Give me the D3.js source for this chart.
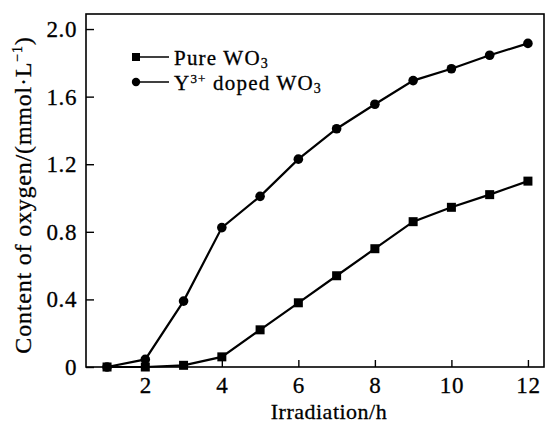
<!DOCTYPE html>
<html>
<head>
<meta charset="utf-8">
<script src="https://cdn.jsdelivr.net/npm/d3@7"></script>
<style>
  body { margin: 0; background: #fff; }
  svg { display: block; }
  text { font-family: "Liberation Serif", "Times New Roman", serif; fill: #000; stroke: #000; stroke-width: 0.3px; }
</style>
</head>
<body>
<svg width="546" height="423"></svg>
<script>
// irradiation time (h)
const hours = [1, 2, 3, 4, 5, 6, 7, 8, 9, 10, 11, 12];
// oxygen content, mmol/L
const pureWO3 = [0, 0, 0.01, 0.06, 0.22, 0.38, 0.54, 0.70, 0.86, 0.945, 1.02, 1.10];
const dopedWO3 = [0, 0.045, 0.39, 0.825, 1.01, 1.23, 1.41, 1.555, 1.695, 1.765, 1.845, 1.915];

const xTicks = [2, 4, 6, 8, 10, 12];
const yTicks = [0, 0.4, 0.8, 1.2, 1.6, 2.0];

const svg = d3.select("svg");

// plot box
const boxLeft = 86, boxRight = 544, boxTop = 14, boxBottom = 367;

const x = d3.scaleLinear().domain([0.45, 12.42]).range([boxLeft, boxRight]);
const y = d3.scaleLinear().domain([0, 2.089]).range([boxBottom, boxTop]);

// frame
svg.append("rect")
  .attr("x", boxLeft).attr("y", boxTop)
  .attr("width", boxRight - boxLeft).attr("height", boxBottom - boxTop)
  .attr("fill", "none").attr("stroke", "#000").attr("stroke-width", 1.6);

// axes, ticks pointing into the plot
const xAxis = svg.append("g")
  .attr("transform", `translate(0,${boxBottom})`)
  .call(d3.axisBottom(x).tickValues(xTicks).tickSizeInner(-7).tickSizeOuter(0).tickPadding(10).tickFormat(d3.format("d")));

const yAxis = svg.append("g")
  .attr("transform", `translate(${boxLeft},0)`)
  .call(d3.axisLeft(y).tickValues(yTicks).tickSizeInner(-8).tickSizeOuter(0).tickPadding(9)
    .tickFormat(d => d === 0 ? "0" : d3.format(".1f")(d)));

[xAxis, yAxis].forEach(g => {
  g.select(".domain").remove();
  g.selectAll("line").attr("stroke", "#000").attr("stroke-width", 1.4);
  g.selectAll("text")
    .attr("font-size", 23)
    .attr("font-family", "Liberation Serif")
    .attr("letter-spacing", 0.6);
});
xAxis.selectAll("text").attr("dy", "0.68em");

// lines and markers
const line = d3.line().x(d => x(d[0])).y(d => y(d[1]));
const pureData = hours.map((h, i) => [h, pureWO3[i]]);
const dopedData = hours.map((h, i) => [h, dopedWO3[i]]);

[pureData, dopedData].forEach(data => {
  svg.append("path")
    .datum(data)
    .attr("d", line)
    .attr("fill", "none")
    .attr("stroke", "#000")
    .attr("stroke-width", 2.2);
});

svg.selectAll(".sq").data(pureData).enter()
  .append("rect")
    .attr("x", d => x(d[0]) - 4.5)
    .attr("y", d => y(d[1]) - 4.5)
    .attr("width", 9).attr("height", 9)
    .attr("fill", "#000");

svg.selectAll(".dot").data(dopedData).enter()
  .append("circle")
    .attr("cx", d => x(d[0]))
    .attr("cy", d => y(d[1]))
    .attr("r", 4.8)
    .attr("fill", "#000");

// legend
const legend = svg.append("g");
legend.append("rect").attr("x", 132).attr("y", 53).attr("width", 8).attr("height", 8).attr("fill", "#000");
legend.append("line").attr("x1", 140).attr("x2", 169).attr("y1", 57).attr("y2", 57).attr("stroke", "#000").attr("stroke-width", 1.5);
legend.append("circle").attr("cx", 136).attr("cy", 82).attr("r", 4.2).attr("fill", "#000");
legend.append("line").attr("x1", 140).attr("x2", 169).attr("y1", 82).attr("y2", 82).attr("stroke", "#000").attr("stroke-width", 1.5);

const t1 = legend.append("text").attr("x", 174).attr("y", 65).attr("font-size", 21).attr("letter-spacing", 1.2);
t1.append("tspan").text("Pure WO");
t1.append("tspan").attr("font-size", 14).attr("dy", 3).text("3");

const t2 = legend.append("text").attr("x", 174).attr("y", 90).attr("font-size", 21).attr("letter-spacing", 1.2);
t2.append("tspan").text("Y");
t2.append("tspan").attr("font-size", 13).attr("dy", -7).text("3+");
t2.append("tspan").attr("dy", 7).text(" doped WO");
t2.append("tspan").attr("font-size", 14).attr("dy", 3).text("3");

// axis titles
svg.append("text")
  .attr("x", 329).attr("y", 419)
  .attr("text-anchor", "middle")
  .attr("font-size", 22)
  .attr("letter-spacing", 0.5)
  .text("Irradiation/h");

const yt = svg.append("text")
  .attr("transform", "translate(31,195) rotate(-90)")
  .attr("text-anchor", "middle")
  .attr("font-size", 24)
  .attr("letter-spacing", 0.8);
yt.append("tspan").text("Content of oxygen/(mmol\u00b7L");
yt.append("tspan").attr("font-size", 14).attr("dy", -9).text("\u22121");
yt.append("tspan").attr("dy", 9).text(")");
</script>
</body>
</html>
